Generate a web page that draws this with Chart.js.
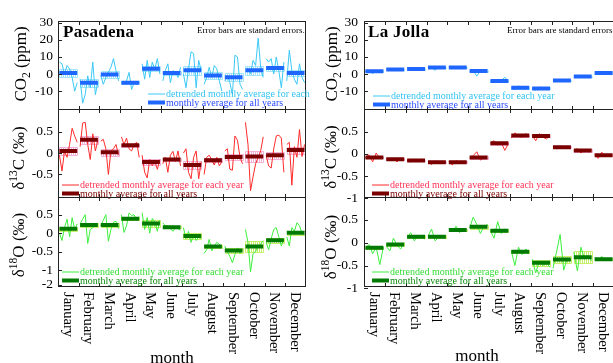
<!DOCTYPE html>
<html>
<head>
<meta charset="utf-8">
<script src="https://cdn.jsdelivr.net/npm/chart.js@4.4.0/dist/chart.umd.min.js"></script>
<style>
  html, body { margin:0; padding:0; background:#fff; overflow:hidden; }
  #wrap { position:relative; width:613px; height:363px; overflow:hidden; font-family:"Liberation Serif", serif; color:#000; }
  #wrap canvas { position:absolute; top:0; }
  .ytitle { position:absolute; transform:translate(-50%,-50%) rotate(-90deg); white-space:nowrap; font-size:17px; line-height:1; }
  .ytitle sub, .ytitle sup { font-size:0.68em; line-height:0; }
  .site { position:absolute; font-weight:bold; font-size:17px; letter-spacing:0.3px; }
  .note { position:absolute; font-size:9px; white-space:nowrap; }
  .xtitle { position:absolute; font-size:17px; transform:translateX(-50%); }
</style>
</head>
<body>
<div id="wrap">
  <canvas id="pasCO2" width="310" height="363" style="left:0"></canvas>
  <canvas id="pasD13" width="310" height="363" style="left:0"></canvas>
  <canvas id="pasD18" width="310" height="363" style="left:0"></canvas>
  <canvas id="ljCO2" width="320" height="363" style="left:305px"></canvas>
  <canvas id="ljD13" width="320" height="363" style="left:305px"></canvas>
  <canvas id="ljD18" width="320" height="363" style="left:305px"></canvas>

  <div class="site" style="left:63px;top:22px">Pasadena</div>
  <div class="site" style="left:368px;top:22px">La Jolla</div>
  <div class="note" style="left:197px;top:25px">Error bars are standard errors.</div>
  <div class="note" style="left:507px;top:25px">Error bars are standard errors.</div>

  <div class="ytitle" style="left:20px;top:64px">CO<sub>2</sub> (ppm)</div>
  <div class="ytitle" style="left:18px;top:158px">δ<sup>13</sup>C (‰)</div>
  <div class="ytitle" style="left:18px;top:245px">δ<sup>18</sup>O (‰)</div>
  <div class="ytitle" style="left:331px;top:64px">CO<sub>2</sub> (ppm)</div>
  <div class="ytitle" style="left:330px;top:157px">δ<sup>13</sup>C (‰)</div>
  <div class="ytitle" style="left:330px;top:247px">δ<sup>18</sup>O (‰)</div>

  <div class="xtitle" style="left:172px;top:348px">month</div>
  <div class="xtitle" style="left:477px;top:346px">month</div>
</div>

<script>
'use strict';

const months = ['January', 'February', 'March', 'April', 'May', 'June',
                'July', 'August', 'September', 'October', 'November', 'December'];

// tick labels
const co2Ticks      = [30, 20, 10, 0, -10];
const pasD13Ticks   = [0.5, 0, -0.5];
const ljD13Ticks    = [0.5, 0, -0.5, -1];
const pasD18TickPos = [0.5, 0, -0.5, -1, -1.4];
const pasD18Labels  = ['0.5', '0', '-0.5', '-1', '-2'];
const ljD18Ticks    = [0.5, 0, -0.5, -1];

// Pasadena: monthly average for all years, standard errors, detrended values per year
const pasCO2Mean = [0.6, -5.1, -0.2, -5.1, 3.1, 0.6, 2.2, -0.8, -1.8, 2.2, 3.5, 0.6];
const pasCO2SE   = [2.5, 2.5, 2, 1, 1.5, 1, 2.5, 2, 2.5, 2.5, 1.5, 1.5];
const pasCO2Years = [
  [7, 6, 0, 5, 3, -2, -10, -5],
  [-3, -17, -12, -1, -8, 7, -12, -5],
  [-1, -6, -2, 1, 4, 9, 2, -4],
  [-5, -5, -4, 1, -9, -5, -6, -5],
  [6, -3, 8, -2, 7, 3, 9, 0],
  [-4, 2, 6, -5, 2, 1, -2, 4],
  [0, -8, 3, 13, 12, -8, 8, 2],
  [-6, -2, 4, -2, 5, 3, -4, -10],
  [-4, -1, -5, -12, 11, 10, -6, -9],
  [1, 3, 0, 8, 5, 21, 4, -2],
  [9, 7, 9, 0, 10, 2, -8, 7],
  [-4, 14, 2, -3, -6, 6, -2, -5]
];

const pasD13Mean = [0.05, 0.31, 0.02, 0.18, -0.21, -0.15, -0.28, -0.17, -0.09, -0.08, -0.05, 0.07];
const pasD13SE   = [0.1, 0.1, 0.08, 0.04, 0.08, 0.04, 0.1, 0.05, 0.08, 0.12, 0.08, 0.08];
const pasD13Years = [
  [-0.05, -0.42, 0.05, -0.1, 0.2, 0.58, 0.4, 0.25],
  [0.15, 0.7, 0.72, 0.2, -0.15, 0.45, 0.05, 0.3],
  [0.28, 0.32, 0.1, -0.5, 0.05, 0.1, 0.2, -0.05],
  [0.38, 0.2, 0.35, 0.1, 0.05, 0.2, 0.25, -0.1],
  [-0.05, -0.45, -0.58, -0.15, -0.3, -0.2, -0.38, -0.15],
  [-0.25, -0.1, -0.45, -0.05, 0.04, -0.2, 0.05, -0.3],
  [0, 0.1, -0.45, -0.6, -0.1, 0.05, -0.6, -0.2],
  [-0.5, -0.1, -0.05, -0.15, -0.28, -0.1, -0.3, -0.2],
  [0.05, 0.1, -0.38, -0.4, 0.4, 0.3, -0.1, -0.25],
  [0.72, 0.2, -0.88, -0.55, -0.25, -0.1, 0.05, 0.38],
  [-0.05, -0.3, -0.35, 0.1, 0.4, 0.42, 0.35, -0.45],
  [0.2, 0.25, -0.75, 0.15, -0.1, 0.55, -0.08, 0.2]
];

const pasD18Mean = [0.12, 0.22, 0.22, 0.39, 0.26, 0.16, -0.08, -0.36, -0.47, -0.36, -0.19, 0.01];
const pasD18SE   = [0.05, 0.05, 0.06, 0.04, 0.1, 0.03, 0.08, 0.04, 0.08, 0.15, 0.07, 0.05];
const pasD18Years = [
  [0, -0.2, 0.15, 0.38, -0.1, 0.42, 0.1, 0.25],
  [0.25, 0.38, 0.5, -0.28, 0.1, 0.15, 0.2, 0.22],
  [0.2, 0.35, 0.5, -0.22, 0.1, 0.3, 0.32, 0.12],
  [0.5, 0.02, 0.2, 0.55, 0.48, 0.5, 0.35, 0.45],
  [0.55, 0.1, 0.42, 0, 0.4, 0.3, 0.05, 0.35],
  [0.28, 0.2, 0.2, 0.12, 0.05, 0.15, 0.12, 0.08],
  [0.15, -0.15, 0.05, -0.25, -0.05, -0.2, -0.1, -0.15],
  [-0.55, -0.45, -0.17, -0.48, -0.35, -0.25, -0.3, -0.4],
  [-0.35, -0.5, -0.63, -0.8, -0.58, -0.4, -0.55, -0.45],
  [0.1, -0.25, -1.05, -0.55, -0.5, -0.35, -0.3, -0.2],
  [-0.25, -0.45, -0.15, 0.1, 0.15, -0.1, -0.35, -0.15],
  [-0.1, -0.35, 0.15, 0.05, 0.28, 0.2, 0, -0.05]
];

// La Jolla
const ljCO2Mean = [1.6, 2.7, 2.9, 3.9, 3.9, 1.8, -4.1, -8, -8.4, -3.7, -1.4, 0.6];
const ljCO2SE   = [0.5, 0.4, 0.4, 0.4, 0.4, 0.5, 0.6, 0.6, 0.6, 0.4, 0.5, 0.4];
const ljCO2Years = [
  [1.5, 2.0, 0.3, 1.8, 1.6, 2.0],
  [2.8, 2.4, 3.0, 2.6, 2.9, 2.7],
  [3.0, 2.6, 3.3, 2.8, 3.0, 2.9],
  [4.0, 3.7, 2.2, 4.2, 4.0, 3.8],
  [4.0, 4.3, 3.7, 4.0, 3.9, 3.6],
  [1.6, 2.1, -1.2, 1.9, 2.0, 1.5],
  [-4.2, -4.6, -3.6, -4.0, -1.8, -4.4],
  [-8.0, -9.2, -6.8, -8.6, -8.0, -7.4],
  [-8.6, -9.4, -7.6, -8.2, -8.8, -8.0],
  [-3.4, -4.0, -3.5, -3.9, -3.5, -3.6],
  [-1.6, -0.9, -2.0, -1.4, -1.2, -1.4],
  [0.5, 1.0, 0.2, 0.8, 0.6, 0.5]
];

const ljD13Mean = [-0.08, -0.12, -0.15, -0.19, -0.19, -0.08, 0.24, 0.42, 0.41, 0.15, 0.08, -0.03];
const ljD13SE   = [0.02, 0.02, 0.02, 0.02, 0.02, 0.03, 0.03, 0.03, 0.03, 0.02, 0.03, 0.02];
const ljD13Years = [
  [-0.08, -0.02, -0.18, 0.02, -0.1, -0.08],
  [-0.1, -0.15, -0.1, -0.18, -0.1, -0.12],
  [-0.14, -0.18, -0.12, -0.16, -0.12, -0.15],
  [-0.18, -0.24, -0.16, -0.2, -0.17, -0.19],
  [-0.18, -0.25, -0.15, -0.2, -0.22, -0.19],
  [-0.1, -0.04, 0.05, -0.14, -0.08, -0.1],
  [0.25, 0.3, 0.2, 0.26, 0.08, 0.24],
  [0.36, 0.48, 0.4, 0.38, 0.46, 0.4],
  [0.42, 0.3, 0.46, 0.38, 0.34, 0.42],
  [0.15, 0.12, 0.18, 0.14, 0.17, 0.13],
  [0.08, 0.12, 0.02, 0.1, 0.05, 0.08],
  [-0.02, -0.1, 0.04, -0.05, -0.02, -0.04]
];

const ljD18Mean = [-0.11, -0.04, 0.13, 0.13, 0.28, 0.35, 0.26, -0.2, -0.44, -0.37, -0.32, -0.36];
const ljD18SE   = [0.02, 0.03, 0.03, 0.03, 0.02, 0.04, 0.03, 0.03, 0.07, 0.07, 0.13, 0.02];
const ljD18Years = [
  [-0.12, -0.04, -0.24, -0.1, -0.48, -0.1],
  [-0.08, -0.18, 0.1, -0.06, -0.14, 0.0],
  [0.1, 0.22, 0.04, 0.16, 0.12, 0.08],
  [0.14, 0.3, 0.04, 0.12, 0.16, 0.1],
  [0.3, 0.24, 0.36, 0.22, 0.3, 0.28],
  [0.32, 0.56, 0.4, 0.2, 0.36, 0.4],
  [0.26, 0.1, 0.46, 0.2, 0.3, 0.25],
  [-0.18, -0.5, -0.1, -0.26, -0.14, -0.2],
  [-0.36, -0.66, -0.4, -0.5, -0.44, -0.54],
  [-0.56, -0.2, 0.18, -0.6, -0.34, -0.4],
  [-0.2, -0.62, -0.1, -0.36, -0.28, -0.4],
  [-0.34, -0.4, -0.3, -0.38, -0.36, -0.37]
];

const COLORS = {
  co2: { line:'#3cc8f5', mean:'#1f66ff', se:'#a6e4fa', lineText:'#33c3f3', meanText:'#2a4cff' },
  d13: { line:'#ff2b2b', mean:'#7a0000', se:'#f3b2d8', lineText:'#ff3355', meanText:'#7a0000' },
  d18: { line:'#3cef3c', mean:'#007a00', se:'#c6ef6a', lineText:'#33dd33', meanText:'#0a8a0a' }
};

const SERIF = '"Liberation Serif", "Times New Roman", serif';
const BAR_L = 0.07, BAR_R = 0.93;

function panelPlugin(cfg) {
  return {
    id: 'panel',
    beforeDatasetsDraw(chart) {
      const { ctx, scales: { x, y } } = chart;
      ctx.save();
      ctx.strokeStyle = cfg.col.se;
      ctx.lineWidth = 1;
      cfg.mean.forEach((m, i) => {
        const x0 = Math.round(x.getPixelForValue(i + BAR_L)) + 0.5;
        const x1 = Math.round(x.getPixelForValue(i + BAR_R)) + 0.5;
        const yt = Math.round(y.getPixelForValue(m + cfg.se[i])) + 0.5;
        const yb = Math.round(y.getPixelForValue(m - cfg.se[i])) + 0.5;
        ctx.beginPath();
        ctx.moveTo(x0, yt); ctx.lineTo(x1, yt);
        ctx.moveTo(x0, yb); ctx.lineTo(x1, yb);
        for (let xx = x0; xx <= x1; xx += 2) { ctx.moveTo(xx, yt); ctx.lineTo(xx, yb); }
        ctx.stroke();
      });
      ctx.restore();
    },
    afterDraw(chart) {
      const { ctx, chartArea: a, scales: { x, y } } = chart;
      ctx.save();
      // frame
      ctx.strokeStyle = '#222';
      ctx.lineWidth = 1;
      ctx.strokeRect(a.left + 0.5, a.top + 0.5, a.right - a.left - 1, a.bottom - a.top - 1);
      // inward ticks
      ctx.beginPath();
      for (let i = 1; i < 12; i++) {
        const px = Math.round(x.getPixelForValue(i)) + 0.5;
        ctx.moveTo(px, a.top); ctx.lineTo(px, a.top + 4);
        ctx.moveTo(px, a.bottom); ctx.lineTo(px, a.bottom - 4);
      }
      cfg.tickPos.forEach(v => {
        const py = Math.round(y.getPixelForValue(v)) + 0.5;
        ctx.moveTo(a.left, py); ctx.lineTo(a.left + 4, py);
      });
      ctx.stroke();
      // legend
      const lx = a.left + cfg.legX;
      ctx.font = '10px ' + SERIF;
      ctx.textBaseline = 'middle';
      ctx.lineCap = 'butt';
      [[cfg.col.line, 1, cfg.col.lineText, 'detrended monthly average for each year', cfg.legY],
       [cfg.col.mean, 4, cfg.col.meanText, 'monthly average for all years', cfg.legY + 8.5]]
        .forEach(([c, w, tc, label, ly]) => {
          ctx.strokeStyle = c; ctx.lineWidth = w;
          ctx.beginPath(); ctx.moveTo(lx, ly); ctx.lineTo(lx + 17, ly); ctx.stroke();
          ctx.fillStyle = tc;
          ctx.fillText(label, lx + 18, ly + 0.5);
        });
      // month names under the lowest panel
      if (cfg.months) {
        ctx.fillStyle = '#000';
        ctx.font = '14.5px ' + SERIF;
        ctx.textAlign = 'left';
        months.forEach((mName, i) => {
          ctx.save();
          ctx.translate(x.getPixelForValue(i + 0.5) - 1, a.bottom + 5);
          ctx.rotate(Math.PI / 2);
          ctx.fillText(mName, 0, 0);
          ctx.restore();
        });
      }
      ctx.restore();
    }
  };
}

function makePanel(id, cfg) {
  const n = cfg.years[0].length;
  const pts = [];
  cfg.years.forEach((vals, m) => {
    vals.forEach((v, j) => pts.push({ x: m + BAR_L + j * (BAR_R - BAR_L) / (n - 1), y: v }));
    pts.push({ x: m + 0.97, y: null });
  });
  const bars = [];
  cfg.mean.forEach((v, m) => {
    bars.push({ x: m + BAR_L, y: v }, { x: m + BAR_R, y: v }, { x: m + 0.97, y: null });
  });

  const canvas = document.getElementById(id);
  return new Chart(canvas.getContext('2d'), {
    type: 'line',
    data: {
      datasets: [
        { data: bars, borderColor: cfg.col.mean, borderWidth: 4, pointRadius: 0, borderCapStyle: 'butt', spanGaps: false },
        { data: pts, borderColor: cfg.col.line, borderWidth: 1, pointRadius: 0, tension: 0, spanGaps: false }
      ]
    },
    options: {
      responsive: false, animation: false, events: [],
      layout: { padding: { top: cfg.top, bottom: 363 - cfg.bottom, left: 0, right: canvas.width - cfg.right } },
      plugins: { legend: { display: false }, tooltip: { enabled: false } },
      scales: {
        x: { type: 'linear', min: 0, max: 12, display: false },
        y: {
          min: cfg.yMin, max: cfg.yMax,
          afterBuildTicks: ax => { ax.ticks = cfg.tickPos.map(v => ({ value: v })); },
          afterFit: ax => { ax.width = cfg.axisW; },
          grid: { display: false, drawTicks: false },
          border: { display: false },
          ticks: {
            autoSkip: false, padding: cfg.pad, color: '#000',
            font: { family: SERIF, size: 13.5 },
            callback: (v, i) => cfg.tickLabels[i]
          }
        }
      }
    },
    plugins: [panelPlugin(cfg)]
  });
}

const LEFT  = { axisW: 58, right: 306, pad: 5 };
const RIGHT = { axisW: 59, right: 309, pad: 6 };

makePanel('pasCO2', { ...LEFT, top: 21, bottom: 110, yMin: -21, yMax: 31,
  tickPos: co2Ticks, tickLabels: co2Ticks.map(String),
  mean: pasCO2Mean, se: pasCO2SE, years: pasCO2Years,
  col: COLORS.co2, legX: 90, legY: 94 });
makePanel('pasD13', { ...LEFT, top: 109, bottom: 198, yMin: -1.05, yMax: 1.03,
  tickPos: pasD13Ticks, tickLabels: pasD13Ticks.map(String),
  mean: pasD13Mean, se: pasD13SE, years: pasD13Years,
  col: COLORS.d13, legX: 4, legY: 185 });
makePanel('pasD18', { ...LEFT, top: 197, bottom: 287, yMin: -1.46, yMax: 0.98,
  tickPos: pasD18TickPos, tickLabels: pasD18Labels,
  mean: pasD18Mean, se: pasD18SE, years: pasD18Years,
  col: COLORS.d18, legX: 4, legY: 272, months: true });

makePanel('ljCO2', { ...RIGHT, top: 21, bottom: 110, yMin: -21, yMax: 31,
  tickPos: co2Ticks, tickLabels: co2Ticks.map(String),
  mean: ljCO2Mean, se: ljCO2SE, years: ljCO2Years,
  col: COLORS.co2, legX: 9, legY: 96 });
makePanel('ljD13', { ...RIGHT, top: 109, bottom: 198, yMin: -1, yMax: 1.02,
  tickPos: ljD13Ticks, tickLabels: ljD13Ticks.map(String),
  mean: ljD13Mean, se: ljD13SE, years: ljD13Years,
  col: COLORS.d13, legX: 8, legY: 185 });
makePanel('ljD18', { ...RIGHT, top: 197, bottom: 287, yMin: -0.97, yMax: 1.0,
  tickPos: ljD18Ticks, tickLabels: ljD18Ticks.map(String),
  mean: ljD18Mean, se: ljD18SE, years: ljD18Years,
  col: COLORS.d18, legX: 8, legY: 272, months: true });
</script>
</body>
</html>
